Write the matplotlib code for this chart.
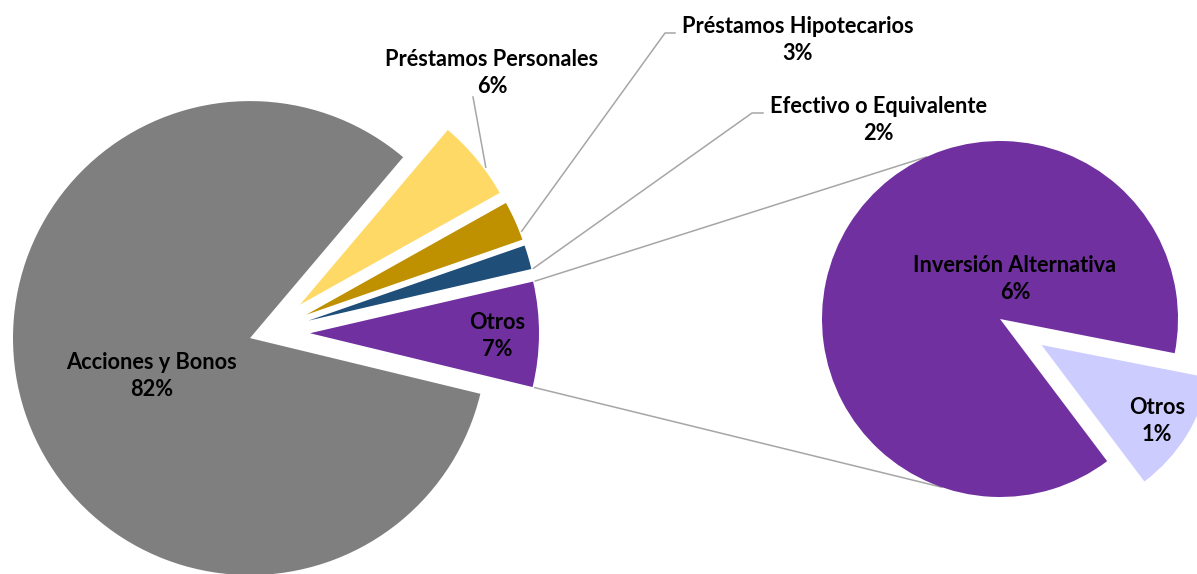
import matplotlib.pyplot as plt
import numpy as np

W, H = 1197, 574

categorias = ['Acciones y Bonos', 'Préstamos Personales', 'Préstamos Hipotecarios',
              'Efectivo o Equivalente', 'Otros']
valores = [82.4, 5.7, 2.8, 1.7, 7.4]
colores = ['#7f7f7f', '#ffd966', '#bf9000', '#1f4e79', '#7030a0']

sub_categorias = ['Inversión Alternativa', 'Otros']
sub_valores = [6.45, 0.85]
sub_colores = ['#7030a0', '#ccccff']

plt.rcParams['font.family'] = ['Lato', 'DejaVu Sans']

fig = plt.figure(figsize=(W / 100, H / 100), dpi=100)
ax = fig.add_axes([0, 0, 1, 1])

# main pie (pixel units, y up); every slice pulled out a bit, the big one less
r1 = 237
c1 = (265.6, H - 333)
wedges, _ = ax.pie(valores, colors=colores, radius=r1, center=c1, startangle=-13.6,
                   counterclock=False, explode=[16.4, 44.4, 44.4, 44.4, 44.4])
for w in wedges[1:]:
    w.set_radius(229)

# secondary pie
r2 = 178
c2 = (1000, H - 319)
sub_wedges, _ = ax.pie(sub_valores, colors=sub_colores, radius=r2, center=c2, startangle=-53,
                       counterclock=False, explode=[0, 49])
sub_wedges[1].set_radius(r2 * 0.96)

line_col = '#a6a6a6'


def arc_point(w, ang, scale=1.0):
    a = np.deg2rad(ang)
    return (w.center[0] + w.r * scale * np.cos(a), w.center[1] + w.r * scale * np.sin(a))


# connector lines between the pies
wp = wedges[4]
top = arc_point(wp, wp.theta2, 1.01)
bot = arc_point(wp, wp.theta1, 1.01)
for p, ang in [(top, 114.4), (bot, 250.9)]:
    a = np.deg2rad(ang)
    q = (c2[0] + r2 * np.cos(a), c2[1] + r2 * np.sin(a))
    ax.plot([p[0], q[0]], [p[1], q[1]], color=line_col, lw=1.1, zorder=0)

# leader lines for the small slices
mid = lambda w: (w.theta1 + w.theta2) / 2
leaders = {
    1: [(473, H - 97)],
    2: [(675, H - 33), (665, H - 33)],
    3: [(763, H - 113), (752, H - 113)],
}
for i, pts in leaders.items():
    end = arc_point(wedges[i], mid(wedges[i]) - 3, 1.01)
    xs = [p[0] for p in pts] + [end[0]]
    ys = [p[1] for p in pts] + [end[1]]
    ax.plot(xs, ys, color=line_col, lw=1.1, zorder=0)

fs = 15.7
kw = dict(ha='center', va='center', fontsize=fs, fontweight='bold', linespacing=1.3)

lab_pos = [(152, 376), (492, 73), (798, 40), (878, 120), (497, 336)]
for name, v, (x, y) in zip(categorias, valores, lab_pos):
    ax.text(x, H - y, f'{name}\n{v:.0f}%', **kw)

sub_pos = [(1015, 279), (1157, 421)]
for name, v, (x, y) in zip(sub_categorias, sub_valores, sub_pos):
    ax.text(x, H - y, f'{name}\n{v:.0f}%', **kw)

ax.set_xlim(0, W)
ax.set_ylim(0, H)
ax.set_aspect('equal')
ax.axis('off')

fig.savefig('out.png', dpi=100)
